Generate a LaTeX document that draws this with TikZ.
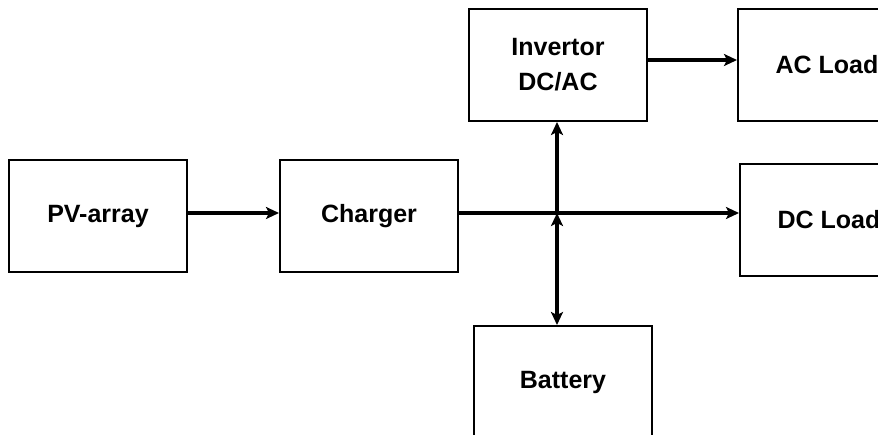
\documentclass[tikz,border=0pt]{standalone}
\usepackage{fontspec}
\setmainfont{Liberation Sans}
\usetikzlibrary{positioning,arrows.meta}
\definecolor{ink}{HTML}{000000}

\begin{document}
\begin{tikzpicture}[x=1pt,y=-1pt,
    every node/.style={font=\bfseries\fontsize{25}{35}\selectfont},
    blk/.style={draw=ink,line width=2pt,minimum width=178pt,minimum height=112pt,inner sep=0pt,align=center},
    tip/.style={Stealth[length=13pt,width=12pt,inset=3pt]},
    flow/.style={draw=ink,line width=3.4pt,-{Stealth[length=13pt,width=12pt,inset=3pt]}}]
  \path[use as bounding box,clip] (0,0) rectangle (878,434);
  \node[blk] (pv) at (98,216) {PV-array};
  \node[blk,right=91pt of pv] (chg) {Charger};
  \node[blk] (inv) at (558,65) {Invertor\\DC/AC};
  \node[blk,right=89pt of inv] (acl) {AC Load};
  \node[blk] (dcl) at (829,220) {DC Load};
  \node[blk] (bat) at (563,382) {Battery};
  \coordinate (jn) at (557,213);
  \draw[flow] (pv.east |- jn) -- (chg.west |- jn);
  \draw[flow] (chg.east |- jn) -- (dcl.west |- jn);
  \draw[flow] (jn) -- (jn |- inv.south);
  \draw[flow,{Stealth[length=13pt,width=12pt,inset=3pt]}-{Stealth[length=13pt,width=12pt,inset=3pt]}] (jn) -- (jn |- bat.north);
  \draw[flow] (inv.east |- 0,60) -- (acl.west |- 0,60);
\end{tikzpicture}
\end{document}
